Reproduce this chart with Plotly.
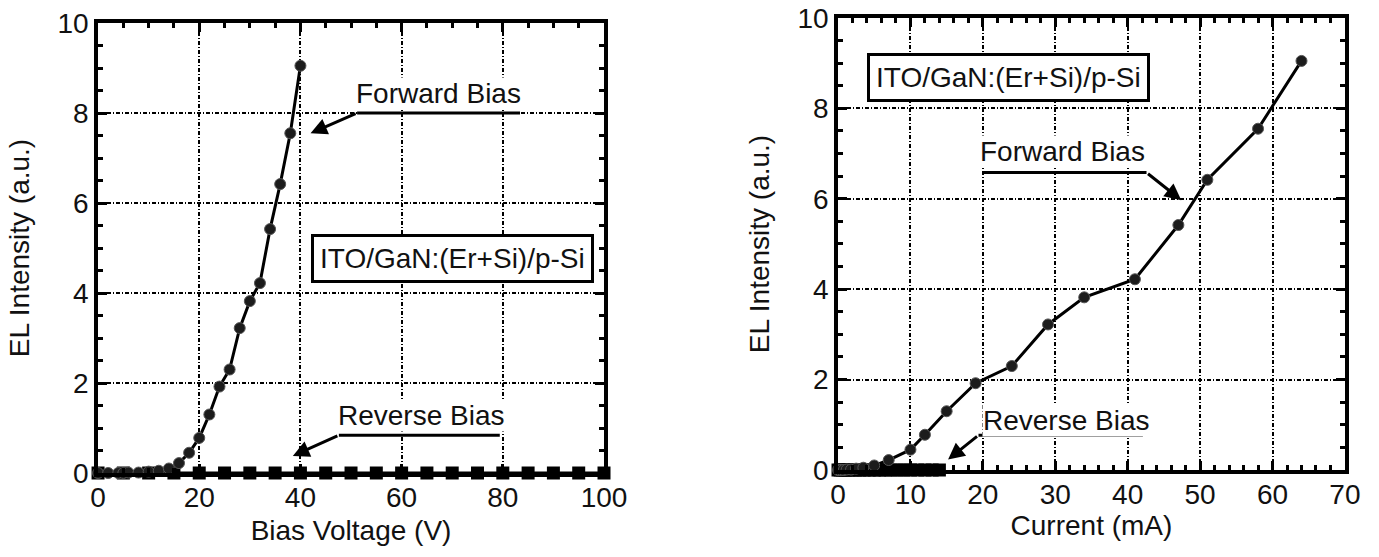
import plotly.graph_objects as go

# EL intensity readings (a.u.), shared by both panels
intensity_fwd = [0.0, 0.0, 0.0, 0.0, 0.01, 0.01, 0.03, 0.05, 0.10, 0.22, 0.45,
                 0.78, 1.30, 1.92, 2.30, 3.22, 3.82, 4.22, 5.42, 6.42, 7.55, 9.05]
# forward bias voltage (V)
voltage_fwd = [0, 2, 4, 5, 6, 8, 10, 12, 14, 16, 18,
               20, 22, 24, 26, 28, 30, 32, 34, 36, 38, 40]
# forward current (mA)
current_fwd = [0, 0.2, 0.5, 0.8, 1.2, 1.8, 2.5, 3.5, 5, 7, 10,
               12, 15, 19, 24, 29, 34, 41, 47, 51, 58, 64]

# reverse bias: no emission up to 100 V
voltage_rev = [0, 5, 10, 15, 20, 25, 30, 35, 40, 45, 50,
               55, 60, 65, 70, 75, 80, 85, 90, 95, 100]
current_rev = [0, 0.3, 0.6, 1.0, 1.4, 1.9, 2.4, 3.0, 3.6, 4.3, 5.0,
               5.7, 6.5, 7.3, 8.2, 9.1, 10.0, 11.0, 12.0, 13.0, 14.0]
intensity_rev = [0.0] * len(voltage_rev)

FONT = "Liberation Sans, Arial, sans-serif"
FS = 28
INK = "#000000"

fig = go.Figure()

fwd_line = dict(color=INK, width=3)
fwd_marker = dict(symbol="circle", size=11, color="#1c1c1c",
                  line=dict(color="#555555", width=1))
rev_marker = dict(symbol="square", size=13, color=INK)

fig.add_trace(go.Scatter(x=voltage_rev, y=intensity_rev, mode="lines+markers",
                         line=fwd_line, marker=rev_marker, cliponaxis=False,
                         xaxis="x", yaxis="y", showlegend=False))
fig.add_trace(go.Scatter(x=voltage_fwd, y=intensity_fwd, mode="lines+markers",
                         line=fwd_line, marker=fwd_marker, cliponaxis=False,
                         xaxis="x", yaxis="y", showlegend=False))
fig.add_trace(go.Scatter(x=current_rev, y=intensity_rev, mode="lines+markers",
                         line=fwd_line, marker=rev_marker, cliponaxis=False,
                         xaxis="x2", yaxis="y2", showlegend=False))
fig.add_trace(go.Scatter(x=current_fwd, y=intensity_fwd, mode="lines+markers",
                         line=fwd_line, marker=fwd_marker, cliponaxis=False,
                         xaxis="x2", yaxis="y2", showlegend=False))


def axis(rng, dtick, minor, domain, anchor, title, standoff, label_shift=0):
    return dict(
        range=rng, domain=domain, anchor=anchor, dtick=dtick, tick0=0,
        automargin=False, ticklabelstandoff=label_shift,
        showline=True, linecolor=INK, linewidth=3.5, mirror="allticks",
        ticks="inside", ticklen=9, tickwidth=2.5, tickcolor=INK,
        minor=dict(dtick=minor, ticks="inside", ticklen=5, tickwidth=2.5,
                   tickcolor=INK, showgrid=False),
        showgrid=True, gridcolor=INK, gridwidth=2, griddash="4px,2px,1px,2px",
        zeroline=False, tickfont=dict(family=FONT, size=FS, color="#111"),
        title=dict(text=title, font=dict(family=FONT, size=FS, color="#111"),
                   standoff=standoff),
        fixedrange=True,
    )


fig.update_layout(
    width=1379, height=557, margin=dict(l=0, r=0, t=0, b=0),
    paper_bgcolor="white", plot_bgcolor="white",
    xaxis=axis([0, 100], 20, 5, [0.0711, 0.438], "y", "Bias Voltage (V)", 9, -3),
    yaxis=axis([0, 10], 2, 0.5, [0.1508, 0.9587], "x", "EL Intensity (a.u.)", 21),
    xaxis2=axis([0, 70], 10, 2, [0.6077, 0.9753], "y2", "Current (mA)", 7, -3),
    yaxis2=axis([0, 10], 2, 0.5, [0.1562, 0.9677], "x2", "EL Intensity (a.u.)", 21),
)

label_font = dict(family=FONT, size=FS, color="#111")
annotations = []
shapes = []


def callout(xr, yr, text, tx, ty, x0, x1, yline, tip, tail_x):
    annotations.append(dict(xref=xr, yref=yr, x=tx, y=ty, text=text,
                            showarrow=False, font=label_font,
                            bgcolor="white", borderpad=0))
    shapes.append(dict(type="line", xref=xr, yref=yr, x0=x0, x1=x1,
                       y0=yline, y1=yline, line=dict(color=INK, width=3)))
    annotations.append(dict(xref=xr, yref=yr, x=tip[0], y=tip[1], text="",
                            showarrow=True, axref=xr, ayref=yr,
                            ax=tail_x, ay=yline, arrowhead=2, arrowsize=1.1,
                            arrowwidth=3, arrowcolor=INK, standoff=0))


# left panel labels
callout("x", "y", "Forward Bias", 67.3, 8.44, 51.2, 83.4, 8.0, (42.0, 7.55), 51.2)
callout("x", "y", "Reverse Bias", 63.9, 1.27, 47.6, 79.4, 0.84, (38.5, 0.38), 47.6)
annotations.append(dict(xref="x", yref="y", x=70.0, y=4.76,
                        text="ITO/GaN:(Er+Si)/p-Si", showarrow=False,
                        font=label_font, bgcolor="white", bordercolor=INK,
                        borderwidth=3, borderpad=6))

# right panel labels
callout("x2", "y2", "Forward Bias", 31.0, 7.04, 19.9, 42.6, 6.58, (47.4, 5.97), 42.6)
callout("x2", "y2", "Reverse Bias", 31.5, 1.09, 19.4, 42.1, 0.77, (15.2, 0.23), 19.4)
annotations.append(dict(xref="x2", yref="y2", x=23.6, y=8.68,
                        text="ITO/GaN:(Er+Si)/p-Si", showarrow=False,
                        font=label_font, bgcolor="white", bordercolor=INK,
                        borderwidth=3, borderpad=6))

fig.update_layout(annotations=annotations, shapes=shapes)

fig.write_html("out.html")
